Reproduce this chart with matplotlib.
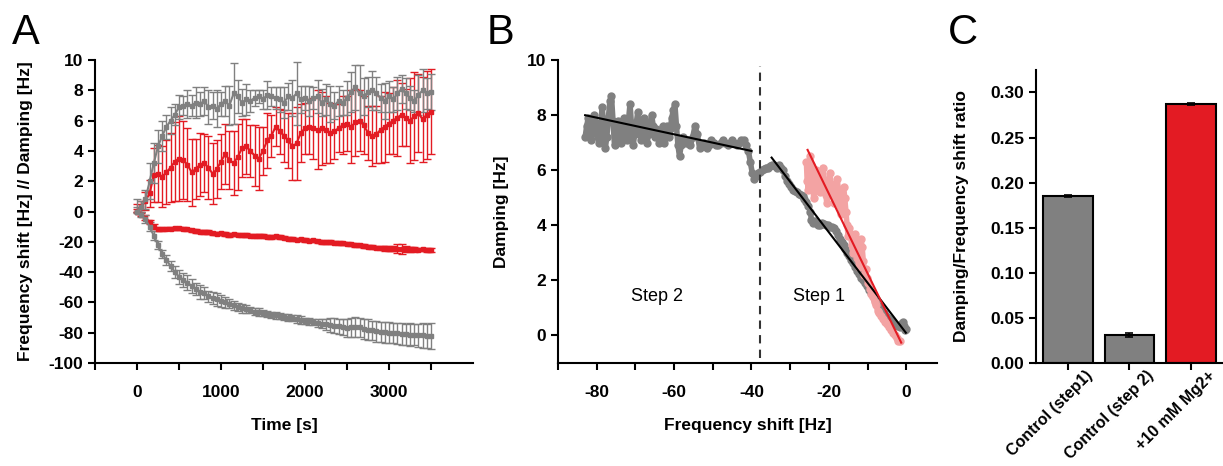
import numpy as np
import matplotlib
matplotlib.use("Agg")
import matplotlib.pyplot as plt
import matplotlib.transforms as mtransforms

plt.rcParams['font.family'] = ['Liberation Sans', 'DejaVu Sans']

GRAY = '#808080'
RED = '#e31b23'
PINK = '#f3a3a3'

# ---------- panel A data (time course) ----------
t = np.arange(0, 3501, 50)

damp_ctrl = [0.0, 0.3, 0.8, 2.0, 3.2, 4.3, 5.0, 5.6, 6.0, 6.4,
             6.9, 7.0, 7.1, 7.0, 7.2, 7.1, 7.3, 6.9, 7.0, 6.8,
             7.1, 7.3, 7.0, 7.8, 7.6, 7.2, 7.4, 7.3, 7.5, 7.6,
             7.4, 7.7, 7.6, 7.5, 7.4, 7.2, 7.6, 7.5, 7.8, 7.4,
             7.5, 7.3, 7.5, 7.6, 7.2, 7.4, 7.1, 7.0, 7.3, 7.2,
             7.5, 7.9, 8.2, 7.8, 7.6, 7.9, 8.0, 7.8, 7.5, 7.3,
             7.6, 7.4, 7.8, 8.1, 7.8, 7.5, 7.3, 7.7, 8.0, 7.8,
             7.9]
damp_ctrl_err = [0.3, 0.4, 0.6, 1.2, 1.3, 1.1, 1.0, 0.8, 0.9, 0.7,
                 0.8, 0.6, 0.9, 0.7, 1.0, 0.8, 0.9, 1.1, 0.9, 1.2,
                 0.8, 1.0, 1.3, 2.0, 1.1, 0.9, 1.0, 0.7, 0.5, 0.4,
                 0.6, 0.9, 0.6, 0.7, 0.8, 1.0, 0.9, 1.2, 2.1, 0.9,
                 0.8, 1.0, 0.7, 1.1, 0.9, 1.0, 1.2, 0.9, 1.0, 0.8,
                 1.1, 1.3, 1.5, 1.9, 1.2, 1.0, 1.3, 1.1, 0.9, 1.2,
                 1.0, 0.8, 1.1, 0.9, 1.0, 0.8, 0.7, 1.3, 1.4, 1.0,
                 1.2]

damp_mg = [0.0, 0.3, 0.7, 1.2, 2.4, 2.5, 2.3, 2.6, 2.9, 3.3,
           3.5, 3.4, 3.1, 2.6, 2.8, 3.1, 3.2, 2.9, 2.5, 2.8,
           3.3, 3.8, 3.4, 3.2, 3.6, 4.2, 4.3, 4.0, 3.7, 3.5,
           4.0, 4.7, 5.0, 5.6, 5.3, 5.0, 4.7, 4.3, 4.5, 5.2,
           5.5, 5.6, 5.5, 5.4, 5.5, 5.4, 5.2, 5.3, 5.5, 5.7,
           5.8, 5.6, 5.9, 6.0, 5.7, 5.2, 5.0, 5.1, 5.4, 5.6,
           5.8, 6.0, 6.2, 6.4, 6.2, 6.0, 6.3, 6.5, 6.1, 6.4,
           6.6]
damp_mg_err = [0.2, 0.4, 0.6, 0.9, 1.8, 1.9, 2.0, 2.1, 2.3, 2.6,
               2.8, 2.6, 2.4, 2.2, 2.0, 2.1, 1.9, 2.1, 2.0, 1.9,
               1.8, 2.0, 1.9, 2.1, 2.2, 1.9, 1.8, 1.7, 2.0, 2.1,
               1.6, 1.8, 1.4, 1.3, 1.5, 1.7, 1.8, 2.2, 2.4, 1.9,
               1.7, 1.8, 2.0, 2.6, 2.4, 2.2, 2.0, 1.8, 1.6, 1.9,
               1.8, 2.4, 2.2, 2.0, 1.9, 1.8, 2.0, 1.9, 2.2, 2.3,
               2.0, 2.2, 2.5, 2.1, 1.9, 2.8, 2.9, 2.6, 2.8, 2.9,
               2.8]

freq_ctrl = [0, -2, -5, -10, -16, -22, -28, -32, -36, -40,
             -43, -45, -47, -49, -51, -53, -54, -56, -57, -58,
             -59, -60, -61, -62, -63, -64, -64.5, -65, -66, -66.5,
             -67, -67.5, -68, -68.5, -69, -69.5, -70, -70.5, -71, -71.5,
             -72, -72.5, -73, -73.5, -74, -74.5, -75, -75.3, -75.8, -76.2,
             -76.8, -76.5, -76.0, -76.5, -77.5, -78, -78.5, -79, -79.5, -79.8,
             -80, -80.3, -80.5, -80.8, -81, -81.2, -81.4, -81.6, -81.8, -82,
             -82]
freq_ctrl_err = [0.8, 1.5, 2.5, 3, 3, 2.5, 2.5, 3, 3.5, 4,
                 4.5, 4.5, 5, 4.5, 4, 4.5, 4, 3.5, 4, 4.5,
                 4, 3.5, 3, 3, 2.5, 3, 2.5, 2, 2, 2.5,
                 2, 2, 2, 2.5, 2, 2, 2.5, 2, 2.5, 2.5,
                 2, 2.5, 2, 2.5, 3, 3.5, 4.5, 5, 5, 5.5,
                 6, 6, 6.5, 6, 6.5, 7, 6.5, 7, 6.5, 7,
                 7, 6.5, 7, 7.5, 7, 7.5, 7, 7.5, 8, 8,
                 8.5]

freq_mg = [0, -2, -4, -7, -10, -11.5, -11.8, -11.5, -11.2, -11.0,
           -11.0, -11.3, -11.8, -12.2, -12.8, -13.2, -13.5, -13.6, -14.2, -14.6,
           -14.4, -14.8, -15.3, -15.0, -15.2, -15.6, -15.5, -15.9, -16.2, -16.0,
           -16.3, -16.5, -16.6, -16.2, -16.8, -17.3, -17.8, -18.2, -18.6, -18.4,
           -18.9, -19.2, -19.0, -19.5, -19.9, -20.3, -20.1, -20.6, -20.9, -21.0,
           -21.2, -21.5, -21.9, -22.3, -22.8, -23.3, -23.6, -23.9, -24.1, -24.3,
           -24.5, -24.4, -24.6, -24.8, -24.6, -24.9, -25.0, -25.1, -25.0, -25.2,
           -25.3]
freq_mg_err = [0.5, 1, 1.5, 1.5, 1.5, 1.2, 1.0, 1.0, 1.0, 1.0,
               1.0, 1.0, 1.0, 1.0, 1.2, 1.2, 1.0, 1.2, 1.0, 1.2,
               1.0, 1.2, 1.2, 1.0, 1.2, 1.0, 1.2, 1.0, 1.2, 1.0,
               1.2, 1.0, 1.2, 1.0, 1.2, 1.0, 1.2, 1.2, 1.0, 1.2,
               1.2, 1.0, 1.2, 1.0, 1.2, 1.0, 1.2, 1.0, 1.2, 1.0,
               1.2, 1.0, 1.2, 1.0, 1.2, 1.0, 1.2, 1.0, 1.2, 1.5,
               1.5, 1.8, 3.0, 3.2, 1.8, 1.5, 1.5, 1.2, 1.2, 1.2,
               1.2]

# ---------- panel B data (damping vs frequency shift) ----------
ctrl_df = [-83.0, -82.6, -82.2, -81.8, -81.4, -81.0, -80.6, -80.2, -79.8, -79.4,
           -79.0, -78.6, -78.2, -77.8, -77.4, -77.0, -76.6, -76.2, -75.8, -75.4,
           -75.0, -74.6, -74.2, -73.8, -73.4, -73.0, -72.6, -72.2, -71.8, -71.4,
           -71.0, -70.6, -70.2, -69.8, -69.4, -69.0, -68.6, -68.2, -67.8, -67.4,
           -67.0, -66.6, -66.2, -65.8, -65.4, -65.0, -64.6, -64.2, -63.8, -63.4,
           -63.0, -62.6, -62.2, -61.8, -61.4, -61.0, -60.6, -60.2, -59.8, -59.4,
           -59.0, -58.6, -58.2, -57.6, -57.0, -56.4, -55.8, -55.2, -54.6, -54.0,
           -53.4, -52.8, -52.2, -51.6, -51.0, -50.4, -49.8, -49.2, -48.6, -48.0,
           -47.4, -46.8, -46.2, -45.6, -45.0, -44.4, -43.8, -43.2, -42.6, -42.0,
           -41.4, -40.8, -40.3, -39.8, -39.3, -38.8, -38.3, -37.8, -37.3, -36.8,
           -36.3, -35.8, -35.3, -34.8, -34.3, -33.8, -33.3, -32.8, -32.3, -31.8,
           -31.3, -30.8, -30.3, -29.8, -29.3, -28.8, -28.3, -27.8, -27.3, -26.8,
           -26.3, -25.8, -25.3, -24.8, -24.5, -24.2, -23.7, -23.2, -22.7, -22.2,
           -21.7, -21.2, -20.7, -20.2, -19.7, -19.2, -18.7, -18.2, -17.7, -17.2,
           -16.7, -16.2, -15.7, -15.2, -14.7, -14.2, -13.7, -13.2, -12.7, -12.2,
           -11.7, -11.2, -10.7, -10.2, -9.7, -9.2, -8.7, -8.2, -7.7, -7.2,
           -6.7, -6.2, -5.7, -5.2, -4.7, -4.2, -3.7, -3.2, -2.7, -2.2,
           -1.7, -1.2, -0.8, -0.5, -0.3, 0.0]
ctrl_damp = [7.2, 7.6, 7.9, 7.3, 7.1, 7.5, 8.0, 7.7, 7.2, 7.0,
             7.6, 8.3, 7.6, 6.8, 7.2, 7.9, 8.5, 8.7, 7.8, 6.9,
             7.3, 7.8, 7.5, 7.0, 7.4, 7.9, 7.6, 7.1, 7.8, 8.4,
             7.6, 6.9, 7.3, 7.7, 8.1, 7.5, 7.1, 7.4, 7.9, 7.5,
             7.0, 7.3, 7.7, 8.0, 7.6, 7.2, 7.5, 7.3, 7.0, 7.4,
             7.6, 7.0, 7.3, 7.6, 7.2, 7.5, 7.9, 8.2, 8.4, 7.6,
             6.9, 6.5, 6.9, 7.2, 7.0, 7.1, 6.9, 7.2, 7.6, 7.3,
             6.8, 6.9, 7.0, 6.8, 6.9, 7.1, 7.0, 6.9, 6.9, 7.0,
             7.1, 7.0, 6.9, 7.0, 7.1, 7.0, 6.9, 7.0, 7.1, 7.1,
             6.9, 6.7, 6.3, 5.9, 5.7, 5.8, 5.9, 5.95, 6.0, 6.05,
             6.1, 6.1, 6.15, 6.2, 6.2, 6.15, 6.1, 6.2, 6.1, 6.0,
             5.8, 5.6, 5.5, 5.4, 5.3, 5.25, 5.2, 5.15, 5.1, 5.05,
             4.95, 4.85, 4.7, 4.5, 4.2, 4.1, 4.15, 4.1, 4.0, 4.0,
             4.1, 4.05, 4.0, 4.0, 3.95, 3.95, 3.9, 3.8, 3.65, 3.5,
             3.4, 3.3, 3.15, 3.0, 2.9, 2.75, 2.65, 2.5, 2.35, 2.25,
             2.1, 2.0, 1.9, 1.78, 1.65, 1.55, 1.42, 1.3, 1.18, 1.08,
             0.98, 0.9, 0.8, 0.72, 0.63, 0.55, 0.48, 0.42, 0.37, 0.33,
             0.3, 0.45, 0.5, 0.35, 0.2, 0.25]

mg_df = [-25.8, -25.6, -25.3, -25.0, -24.8, -24.6, -24.3, -23.9, -23.5, -23.2,
         -22.8, -22.4, -22.0, -21.6, -21.2, -20.8, -20.5, -20.1, -19.8, -19.4,
         -19.0, -18.6, -18.2, -17.9, -17.5, -17.1, -16.8, -16.5, -16.2, -15.9,
         -15.6, -15.3, -15.0, -14.7, -14.4, -14.1, -13.8, -13.5, -13.2, -12.9,
         -12.6, -12.3, -12.0, -11.7, -11.4, -11.1, -10.8, -10.5, -10.2, -9.8,
         -9.4, -9.0, -8.6, -8.2, -7.8, -7.4, -7.0, -6.5, -6.0, -5.5,
         -5.0, -4.5, -4.0, -3.5, -3.0, -2.5, -2.0, -1.5]
mg_damp = [6.3, 5.6, 5.3, 5.9, 6.5, 6.2, 5.5, 5.0, 5.4, 6.0,
           5.5, 5.2, 5.8, 6.1, 5.6, 5.1, 4.8, 5.3, 5.9, 5.5,
           5.1, 4.8, 5.2, 5.7, 5.3, 4.7, 4.4, 4.9, 5.4, 5.0,
           4.5, 4.0, 3.6, 3.9, 3.7, 3.3, 3.0, 3.4, 3.7, 3.3,
           2.8, 2.5, 3.0, 3.5, 3.2, 2.7, 2.2, 2.4, 2.1, 1.9,
           1.7, 1.5, 1.4, 1.2, 1.1, 0.9, 0.8, 0.7, 0.6, 0.5,
           0.4, 0.3, 0.2, 0.1, 0.0, -0.1, -0.2, -0.2]

fit_step2_x = [-83.0, -40.0]
fit_step2_y = [8.0, 6.7]
fit_step1_x = [-34.8, -0.1]
fit_step1_y = [6.46, 0.1]
fit_mg_x = [-25.5, -1.3]
fit_mg_y = [6.74, -0.26]
step_boundary = -37.8

# ---------- panel C data (ratios) ----------
conditions = ['Control (step1)', 'Control (step 2)', '+10 mM Mg2+']
ratios = [0.185, 0.031, 0.287]
ratio_err = [0.001, 0.002, 0.001]
bar_colors = [GRAY, GRAY, RED]

fig = plt.figure(figsize=(12.23, 4.66), dpi=100)

def style(ax):
    for side in ['top', 'right']:
        ax.spines[side].set_visible(False)
    for side in ['left', 'bottom']:
        ax.spines[side].set_linewidth(1.5)
    ax.tick_params(direction='out', length=5, width=1.5, labelsize=12.5)
    for lab in ax.get_xticklabels() + ax.get_yticklabels():
        lab.set_fontweight('bold')

# ---------- A ----------
axA = fig.add_axes([0.0777, 0.221, 0.309, 0.650])
axA.set_yscale('function', functions=(lambda y: np.where(y >= 0, y, y / 10.0),
                                      lambda z: np.where(z >= 0, z, z * 10.0)))
eb = dict(capsize=3, elinewidth=1, capthick=1, marker='s', ms=2.5, lw=1.5)
axA.errorbar(t, freq_mg, yerr=freq_mg_err, color=RED, **eb)
axA.errorbar(t, damp_mg, yerr=damp_mg_err, color=RED, **eb)
axA.errorbar(t, freq_ctrl, yerr=freq_ctrl_err, color=GRAY, **eb)
axA.errorbar(t, damp_ctrl, yerr=damp_ctrl_err, color=GRAY, **eb)
axA.set_xlim(-500, 4000)
axA.set_ylim(-100, 10)
axA.set_xticks(np.arange(-500, 3501, 500))
axA.set_xticklabels(['' if v % 1000 or v < 0 else str(v) for v in range(-500, 3501, 500)])
axA.set_yticks([-100, -80, -60, -40, -20, 0, 2, 4, 6, 8, 10])
axA.set_yticklabels(['-100', '-80', '-60', '-40', '-20', '0', '2', '4', '6', '8', '10'])
axA.set_xlabel('Time [s]', fontsize=12.5, fontweight='bold', labelpad=13)
axA.set_ylabel('Frequency shift [Hz] // Damping [Hz]', fontsize=12.5, fontweight='bold',
               labelpad=11)
style(axA)
axA.tick_params(axis='x', pad=11)

# ---------- B ----------
axB = fig.add_axes([0.4563, 0.221, 0.310, 0.650])
axB.plot(ctrl_df, ctrl_damp, color=GRAY, marker='o', ms=5, lw=4, solid_capstyle='round')
axB.plot(mg_df, mg_damp, color=PINK, marker='o', ms=5, lw=4, solid_capstyle='round')
axB.plot(fit_step2_x, fit_step2_y, color='black', lw=1.5)
axB.plot(fit_step1_x, fit_step1_y, color='black', lw=1.5)
axB.plot(fit_mg_x, fit_mg_y, color=RED, lw=1.5)
axB.plot([step_boundary, step_boundary], [-0.8, 9.8], color='#333333', lw=1.5, ls=(0, (4, 3)))
axB.text(-64.5, 1.4, 'Step 2', fontsize=13, ha='center', va='center')
axB.text(-22.6, 1.4, 'Step 1', fontsize=13, ha='center', va='center')
axB.set_xlim(-90, 8)
axB.set_ylim(-1, 10)
axB.set_xticks(np.arange(-90, 1, 10))
axB.set_xticklabels(['' if v % 20 else str(v) for v in range(-90, 1, 10)])
axB.set_yticks([0, 2, 4, 6, 8, 10])
axB.set_xlabel('Frequency shift [Hz]', fontsize=12.5, fontweight='bold', labelpad=13)
axB.set_ylabel('Damping [Hz]', fontsize=12.5, fontweight='bold', labelpad=13)
style(axB)
axB.tick_params(axis='x', pad=11)

# ---------- C ----------
axC = fig.add_axes([0.847, 0.221, 0.152, 0.629])
xc = np.arange(len(conditions))
axC.bar(xc, ratios, width=0.8, color=bar_colors, edgecolor='black', linewidth=1.5,
        yerr=ratio_err, capsize=3, error_kw=dict(elinewidth=1.2, capthick=1.2))
axC.set_xlim(-0.52, 2.5)
axC.set_ylim(0, 0.325)
axC.set_yticks([0, 0.05, 0.10, 0.15, 0.20, 0.25, 0.30])
axC.set_yticklabels(['0.00', '0.05', '0.10', '0.15', '0.20', '0.25', '0.30'])
axC.set_xticks(xc)
axC.set_xticklabels(conditions, rotation=45, ha='right', va='top', rotation_mode='anchor')
axC.set_ylabel('Damping/Frequency shift ratio', fontsize=12.5, fontweight='bold',
               labelpad=15)
style(axC)
offset = mtransforms.ScaledTranslation(0.17, 0.07, fig.dpi_scale_trans)
for lab in axC.get_xticklabels():
    lab.set_fontsize(11.5)
    lab.set_transform(lab.get_transform() + offset)

# panel letters
fig.text(0.010, 0.905, 'A', fontsize=30)
fig.text(0.398, 0.905, 'B', fontsize=30)
fig.text(0.775, 0.905, 'C', fontsize=30)

fig.savefig('out.png', dpi=100)
